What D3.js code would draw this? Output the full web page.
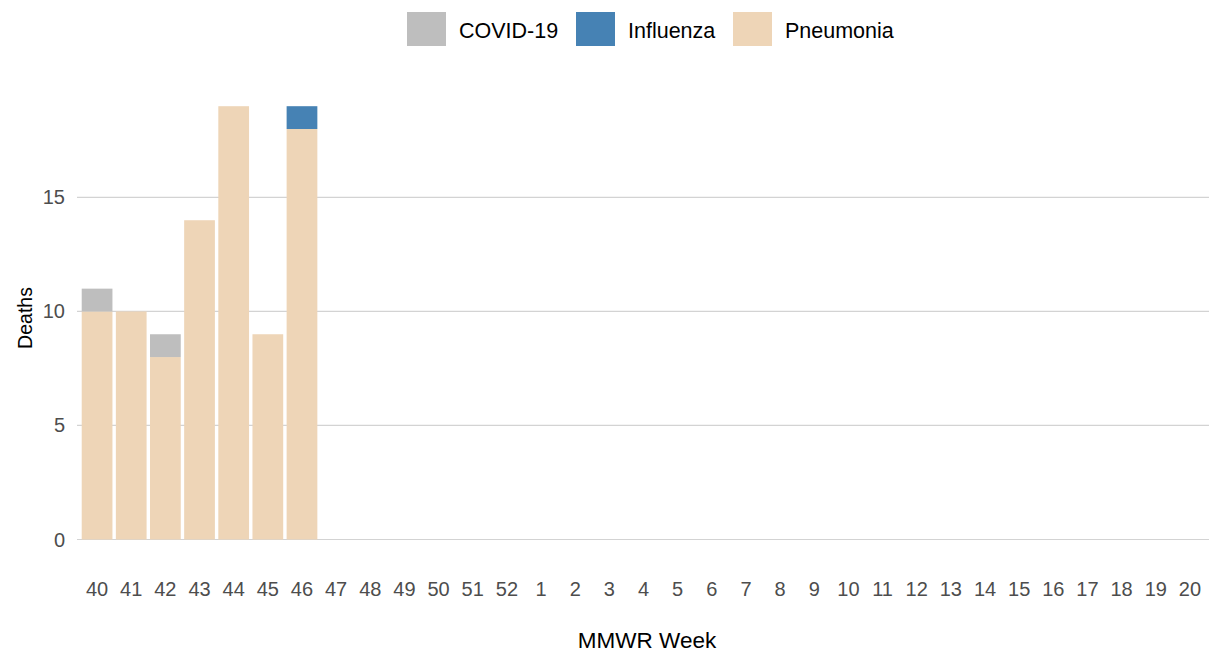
<!DOCTYPE html>
<html><head><meta charset="utf-8">
<script src="https://cdn.jsdelivr.net/npm/d3@7"></script>
<style>body{margin:0;background:#fff}svg{display:block;font-family:"Liberation Sans",Arial,sans-serif}</style>
</head><body><svg id="c" width="1209" height="652"></svg>
<script>
const weeks = ["40","41","42","43","44","45","46","47","48","49","50","51","52","1","2","3","4","5","6","7","8","9","10","11","12","13","14","15","16","17","18","19","20"];
const pneumonia = [10,10,8,14,19,9,18,0,0,0,0,0,0,0,0,0,0,0,0,0,0,0,0,0,0,0,0,0,0,0,0,0,0];
const covid =     [1,0,1,0,0,0,0,0,0,0,0,0,0,0,0,0,0,0,0,0,0,0,0,0,0,0,0,0,0,0,0,0,0];
const influenza = [0,0,0,0,0,0,1,0,0,0,0,0,0,0,0,0,0,0,0,0,0,0,0,0,0,0,0,0,0,0,0,0,0];
const yTicks = [0,5,10,15];
const seriesNames = ["Pneumonia","COVID-19","Influenza"];
const legendOrder = ["COVID-19","Influenza","Pneumonia"];
const colors = {"COVID-19":"#bebebe","Influenza":"#4682b4","Pneumonia":"#eed5b7"};

const svg = d3.select("#c");
const m = {l:80, r:2};
const W = 1209;
const x = d3.scaleBand().domain(weeks).range([m.l, W-m.r]).paddingInner(0.1).paddingOuter(0.05);
const y = d3.scaleLinear().domain([0,20.96]).range([539.5, 61.5]);

// grid
svg.append("g").selectAll("line").data(yTicks).join("line")
  .attr("x1", m.l-3).attr("x2", W).attr("y1", d=>y(d)).attr("y2", d=>y(d))
  .attr("stroke","#d3d3d3").attr("stroke-width",1.2);

const table = weeks.map((w,i)=>({week:w, "Pneumonia":pneumonia[i], "COVID-19":covid[i], "Influenza":influenza[i]}));
const stack = d3.stack().keys(seriesNames)(table);
svg.append("g").selectAll("g").data(stack).join("g")
  .attr("fill", s=>colors[s.key])
  .selectAll("rect").data(s=>s.filter(d=>d[1]-d[0]>0)).join("rect")
  .attr("x", d=>x(d.data.week)).attr("width", x.bandwidth())
  .attr("y", d=>y(d[1])).attr("height", d=>y(d[0])-y(d[1]));

// y axis labels
svg.append("g").selectAll("text").data(yTicks).join("text")
  .attr("x", 65).attr("y", d=>y(d)+7).attr("text-anchor","end")
  .attr("font-size",20).attr("fill","#4d4d4d").text(d=>d);

// x axis labels
svg.append("g").selectAll("text").data(weeks).join("text")
  .attr("x", d=>x(d)+x.bandwidth()/2).attr("y", 596).attr("text-anchor","middle")
  .attr("font-size",20).attr("fill","#4d4d4d").text(d=>d);

svg.append("text").attr("transform","translate(32,318) rotate(-90)").attr("text-anchor","middle")
  .attr("font-size",19.5).attr("fill","#000").text("Deaths");
svg.append("text").attr("x",647).attr("y",648).attr("text-anchor","middle")
  .attr("font-size",22.5).attr("fill","#000").text("MMWR Week");

// legend
const lg = [{k:"COVID-19",x:407},{k:"Influenza",x:576},{k:"Pneumonia",x:733}];
const leg = svg.append("g");
legendOrder.forEach((k,i)=>{
  const item = lg.find(o=>o.k===k);
  leg.append("rect").attr("x",item.x).attr("y",12).attr("width",39).attr("height",34).attr("fill",colors[k]);
  leg.append("text").attr("x",item.x+52).attr("y",38).attr("font-size",21.5).attr("fill","#000").text(k);
});
</script></body></html>
